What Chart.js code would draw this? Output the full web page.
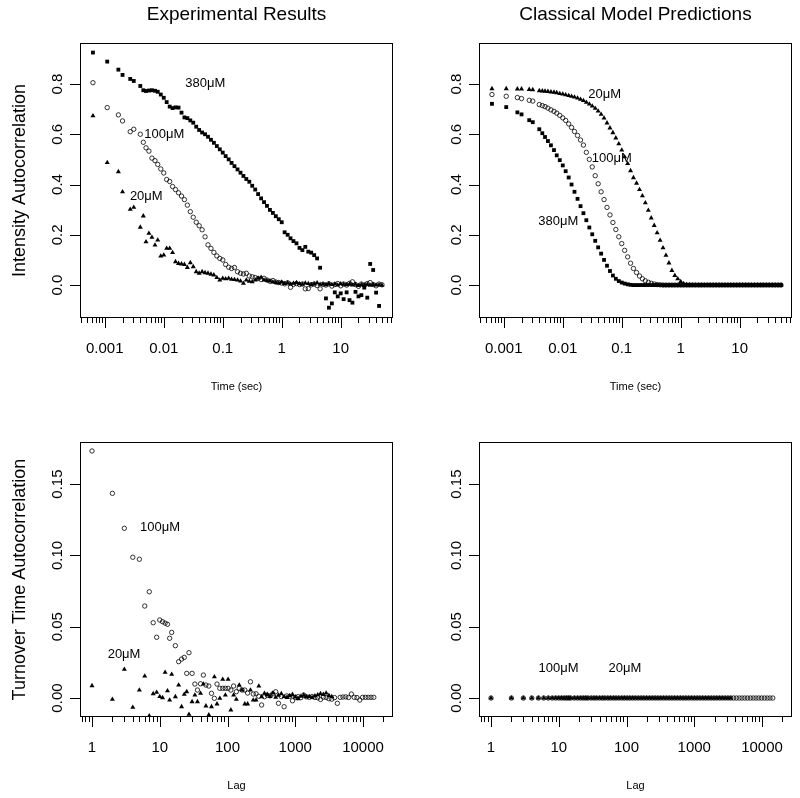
<!DOCTYPE html>
<html>
<head>
<meta charset="utf-8">
<script src="https://cdn.jsdelivr.net/npm/chart.js@4.4.1/dist/chart.umd.min.js"></script>
<style>
  html, body { margin: 0; padding: 0; background: #fff; }
  #wrap { position: relative; width: 800px; height: 798px; background: #fff; }
  canvas { position: absolute; }
</style>
</head>
<body>
<div id="wrap">
  <canvas id="c1" width="400" height="399" style="left:0;top:0"></canvas>
  <canvas id="c2" width="400" height="399" style="left:400px;top:0"></canvas>
  <canvas id="c3" width="400" height="399" style="left:0;top:399px"></canvas>
  <canvas id="c4" width="400" height="399" style="left:400px;top:399px"></canvas>
</div>
<script>
// ---------- DATA ----------
// lag times (seconds) for the intensity autocorrelation panels
const timeLags = [
  0.00063, 0.0011, 0.0017, 0.0020, 0.0027, 0.0031, 0.0040, 0.0045, 0.0050, 0.0056,
  0.0063, 0.0071, 0.0079, 0.0089, 0.0100, 0.0112, 0.0126, 0.0141, 0.0158, 0.0178,
  0.0200, 0.0224, 0.0251, 0.0282, 0.0316, 0.0355, 0.0398, 0.0447, 0.0501, 0.0562,
  0.0631, 0.0708, 0.0794, 0.0891, 0.100, 0.112, 0.126, 0.141, 0.158, 0.178,
  0.200, 0.224, 0.251, 0.282, 0.316, 0.355, 0.398, 0.447, 0.501, 0.562,
  0.631, 0.708, 0.794, 0.891, 1.00, 1.12, 1.26, 1.41, 1.58, 1.78,
  2.00, 2.24, 2.51, 2.82, 3.16, 3.55, 3.98, 4.47, 5.01, 5.62,
  6.31, 7.08, 7.94, 8.91, 10.0, 11.2, 12.6, 14.1, 15.8, 17.8,
  20.0, 22.4, 25.1, 28.2, 31.6, 35.5, 39.8, 44.7, 50.1
];
// experimental intensity autocorrelation
const exp380 = [
  0.925, 0.889, 0.857, 0.836, 0.820, 0.812, 0.792, 0.775, 0.772, 0.774,
  0.775, 0.773, 0.769, 0.758, 0.745, 0.728, 0.710, 0.704, 0.707, 0.706,
  0.686, 0.667, 0.664, 0.655, 0.646, 0.630, 0.617, 0.607, 0.600, 0.590,
  0.578, 0.566, 0.553, 0.540, 0.527, 0.513, 0.500, 0.486, 0.473, 0.460,
  0.447, 0.434, 0.422, 0.411, 0.395, 0.380, 0.362, 0.345, 0.330, 0.315,
  0.299, 0.287, 0.274, 0.262, 0.250, 0.210, 0.200, 0.186, 0.175, 0.166,
  0.148, 0.139, 0.152, 0.133, 0.129, 0.119, 0.106, 0.069, null, -0.053,
  -0.090, -0.073, -0.029, -0.045, -0.033, -0.056, -0.029, -0.060, -0.070, -0.027,
  -0.045, -0.040, -0.010, -0.050, 0.084, 0.060, -0.030, -0.083, null
];
const exp100 = [
  0.805, 0.706, 0.677, 0.653, 0.610, 0.620, 0.600, 0.568, 0.546, 0.533,
  0.505, 0.495, 0.480, 0.462, 0.446, 0.420, 0.412, 0.392, 0.380, 0.367,
  0.354, 0.340, 0.318, 0.292, 0.270, 0.250, 0.236, 0.220, 0.192, 0.160,
  0.146, 0.130, 0.116, 0.106, 0.100, 0.082, 0.071, 0.066, 0.070, 0.053,
  0.047, 0.044, 0.047, 0.036, 0.033, 0.030, 0.026, 0.022, 0.027, 0.020,
  0.015, 0.018, 0.012, 0.010, 0.008, 0.005, 0.009, -0.009, 0.003, 0.006,
  0.002, 0.004, -0.015, -0.014, 0.001, 0.004, -0.002, -0.015, 0.003, 0.000,
  0.005, -0.004, 0.002, 0.006, -0.003, 0.004, 0.000, 0.007, 0.013, 0.002,
  -0.005, 0.004, 0.000, 0.006, 0.010, 0.002, -0.003, 0.004, 0.001
];
const exp20 = [
  0.673, 0.487, 0.451, 0.371, 0.301, 0.309, 0.230, 0.275, 0.172, 0.206,
  0.190, 0.159, 0.179, 0.115, 0.119, 0.146, 0.146, 0.129, 0.093, 0.086,
  0.084, 0.082, 0.070, 0.089, 0.073, 0.053, 0.047, 0.053, 0.049, 0.047,
  0.043, 0.040, 0.030, 0.020, 0.027, 0.025, 0.027, 0.023, 0.022, 0.020,
  0.016, 0.007, 0.020, 0.015, 0.013, 0.020, 0.027, 0.031, 0.020, 0.018,
  0.016, 0.012, 0.010, 0.008, 0.012, 0.006, 0.009, 0.004, 0.007, 0.010,
  0.005, 0.003, 0.008, 0.006, 0.002, 0.005, 0.009, 0.003, 0.004, 0.001,
  0.006, 0.002, 0.004, 0.000, 0.005, 0.003, 0.001, 0.004, 0.000, 0.003,
  -0.002, 0.002, 0.000, 0.003, -0.001, 0.002, 0.000, 0.001, -0.001
];
// classical model intensity autocorrelation
const mod380 = [
  0.721, 0.708, 0.687, 0.679, 0.656, 0.648, 0.620, 0.604, 0.589, 0.573,
  0.556, 0.537, 0.516, 0.497, 0.476, 0.453, 0.428, 0.400, 0.371, 0.343,
  0.314, 0.286, 0.258, 0.229, 0.202, 0.176, 0.150, 0.125, 0.100, 0.077,
  0.056, 0.038, 0.025, 0.016, 0.010, 0.006, 0.003, 0.001, 0, 0,
  0, 0, 0, 0, 0, 0, 0, 0, 0, 0,
  0, 0, 0, 0, 0, 0, 0, 0, 0, 0,
  0, 0, 0, 0, 0, 0, 0, 0, 0, 0,
  0, 0, 0, 0, 0, 0, 0, 0, 0, 0,
  0, 0, 0, 0, 0, 0, 0, 0, 0
];
const mod100 = [
  0.758, 0.751, 0.746, 0.742, 0.735, 0.732, 0.718, 0.714, 0.710, 0.704,
  0.697, 0.691, 0.684, 0.675, 0.665, 0.655, 0.641, 0.627, 0.611, 0.595,
  0.577, 0.557, 0.528, 0.500, 0.470, 0.435, 0.403, 0.371, 0.340, 0.309,
  0.279, 0.249, 0.221, 0.192, 0.165, 0.138, 0.112, 0.087, 0.066, 0.050,
  0.036, 0.025, 0.017, 0.011, 0.007, 0.004, 0.002, 0.001, 0, 0,
  0, 0, 0, 0, 0, 0, 0, 0, 0, 0,
  0, 0, 0, 0, 0, 0, 0, 0, 0, 0,
  0, 0, 0, 0, 0, 0, 0, 0, 0, 0,
  0, 0, 0, 0, 0, 0, 0, 0, 0
];
const mod20 = [
  0.781, 0.781, 0.780, 0.780, 0.778, 0.777, 0.773, 0.772, 0.771, 0.770,
  0.768, 0.767, 0.765, 0.762, 0.760, 0.757, 0.754, 0.751, 0.748, 0.744,
  0.739, 0.734, 0.727, 0.720, 0.712, 0.703, 0.692, 0.679, 0.664, 0.645,
  0.625, 0.606, 0.585, 0.562, 0.537, 0.510, 0.483, 0.455, 0.427, 0.405,
  0.380, 0.355, 0.327, 0.297, 0.267, 0.237, 0.208, 0.178, 0.148, 0.118,
  0.088, 0.058, 0.038, 0.025, 0.014, 0.006, 0.002, 0.001, 0, 0,
  0, 0, 0, 0, 0, 0, 0, 0, 0, 0,
  0, 0, 0, 0, 0, 0, 0, 0, 0, 0,
  0, 0, 0, 0, 0, 0, 0, 0, 0
];
// lags for the turnover time autocorrelation panels
const turnLags = [
  1, 2, 3, 4, 5, 6, 7, 8, 9, 10,
  11, 12, 13, 14, 15, 17, 19, 21, 23, 25,
  27, 30, 33, 36, 40, 44, 48, 53, 58, 64,
  70, 77, 85, 93, 102, 112, 123, 135, 149, 164,
  180, 198, 218, 240, 264, 290, 319, 351, 386, 425,
  467, 514, 565, 622, 684, 752, 827, 910, 1001, 1101,
  1211, 1332, 1465, 1612, 1773, 1950, 2145, 2360, 2596, 2856,
  3141, 3455, 3800, 4180, 4598, 5058, 5564, 6120, 6732, 7405,
  8146, 8960, 9856, 10842, 11926, 13119, 14431
];
const expTurn100 = [
  0.1732, 0.1435, 0.1190, 0.0987, 0.0973, 0.0645, 0.0745, 0.0528, 0.0426, 0.0547,
  0.0535, 0.0525, 0.0517, 0.0419, 0.0460, 0.0367, 0.0255, 0.0273, 0.0285, 0.0173,
  0.0318, 0.0173, 0.0098, 0.0056, 0.0100, 0.0161, 0.0091, 0.0084, 0.0033, -0.0002,
  0.0098, 0.0068, 0.0068, 0.0068, 0.0068, 0.0056, 0.0084, 0.0044, 0.0068, 0.0056,
  0.0056, 0.0035, 0.0114, 0.0028, 0.0030, 0.0012, -0.0049, 0.0009, 0.0020, 0.0015,
  0.0030, 0.0044, -0.0037, 0.0010, -0.0061, 0.0015, 0.0012, -0.0019, 0.0005, 0.0010,
  0.0003, 0.0021, 0.0008, 0.0005, 0.0010, 0.0004, 0.0002, -0.0010, 0.0006, 0.0004,
  -0.0005, -0.0008, 0.0003, -0.0037, 0.0005, 0.0007, 0.0008, 0.0004, 0.0028, 0.0005,
  0.0003, -0.0014, 0.0005, 0.0005, 0.0005, 0.0005, 0.0005
];
const expTurn20 = [
  0.0086, -0.0009, 0.0201, -0.0065, 0.0056, 0.0154, -0.0126, 0.0030, 0.0040, 0.0010,
  0.0002, 0.0180, 0.0050, -0.0014, 0.0166, 0.0009, 0.0091, -0.0061, 0.0026, 0.0044,
  -0.0114, -0.0026, 0.0021, -0.0026, 0.0033, 0.0098, -0.0056, -0.0119, -0.0061, 0.0149,
  -0.0042, -0.0002, 0.0131, 0.0021, 0.0131, -0.0084, 0.0021, -0.0009, 0.0091, 0.0056,
  -0.0042, -0.0042, 0.0056, -0.0014, -0.0014, 0.0084, 0.0009, 0.0033, 0.0025, 0.0010,
  0.0035, 0.0005, 0.0020, 0.0030, 0.0010, 0.0004, 0.0015, 0.0025, 0.0006, -0.0005,
  0.0012, 0.0020, 0.0008, 0.0010, 0.0003, 0.0015, 0.0022, 0.0030, 0.0025, 0.0035,
  0.0018, 0.0010
];
const modTurn100 = [
  0, 0, 0, 0, 0, 0, 0, 0, 0, 0,
  0, 0, 0, 0, 0, 0, 0, 0, 0, 0,
  0, 0, 0, 0, 0, 0, 0, 0, 0, 0,
  0, 0, 0, 0, 0, 0, 0, 0, 0, 0,
  0, 0, 0, 0, 0, 0, 0, 0, 0, 0,
  0, 0, 0, 0, 0, 0, 0, 0, 0, 0,
  0, 0, 0, 0, 0, 0, 0, 0, 0, 0,
  0, 0, 0, 0, 0, 0, 0, 0, 0, 0,
  0, 0, 0, 0, 0, 0, 0
];
const modTurn20 = [
  0, 0, 0, 0, 0, 0, 0, 0, 0, 0,
  0, 0, 0, 0, 0, 0, 0, 0, 0, 0,
  0, 0, 0, 0, 0, 0, 0, 0, 0, 0,
  0, 0, 0, 0, 0, 0, 0, 0, 0, 0,
  0, 0, 0, 0, 0, 0, 0, 0, 0, 0,
  0, 0, 0, 0, 0, 0, 0, 0, 0, 0,
  0, 0, 0, 0, 0, 0, 0, 0, 0, 0,
  0, 0
];

// ---------- TEXT / TICKS ----------
const panelTitles = ['Experimental Results', 'Classical Model Predictions'];
const yTitles = ['Intensity Autocorrelation', 'Turnover Time Autocorrelation'];
const xTitles = ['Time (sec)', 'Lag'];
const timeTicks = [0.001, 0.01, 0.1, 1, 10];
const timeTickLabels = ['0.001', '0.01', '0.1', '1', '10'];
const lagTicks = [1, 10, 100, 1000, 10000];
const lagTickLabels = ['1', '10', '100', '1000', '10000'];
const corrTicks = [0, 0.2, 0.4, 0.6, 0.8];
const corrTickLabels = ['0.0', '0.2', '0.4', '0.6', '0.8'];
const turnTicks = [0, 0.05, 0.10, 0.15];
const turnTickLabels = ['0.00', '0.05', '0.10', '0.15'];
const seriesNames = ['380μM', '100μM', '20μM'];

// ---------- RENDERING ----------
const FONT = '"Liberation Sans", Arial, Helvetica, sans-serif';
const STYLE = {
  square:   { pointStyle: 'rect', pointRadius: 2.7, backgroundColor: '#000', borderColor: '#000', borderWidth: 0 },
  circle:   { pointStyle: 'circle', pointRadius: 2.2, backgroundColor: 'rgba(0,0,0,0)', borderColor: '#000', borderWidth: 0.8 },
  triangle: { pointStyle: 'triangle', pointRadius: 2.9, backgroundColor: '#000', borderColor: '#000', borderWidth: 0 }
};

function pts(xs, ys) {
  const out = [];
  for (let i = 0; i < ys.length; i++) {
    if (ys[i] !== null) out.push({ x: xs[i], y: ys[i] });
  }
  return out;
}

function rPlugin(cfg) {
  return {
    id: 'rAxes',
    afterDraw(chart) {
      const { ctx, chartArea: a } = chart;
      const xs = chart.scales.x, ys = chart.scales.y;
      ctx.save();
      ctx.strokeStyle = '#000';
      ctx.fillStyle = '#000';
      ctx.lineWidth = 1;
      const L = Math.round(a.left), R = Math.round(a.right), T = Math.round(a.top), B = Math.round(a.bottom);
      ctx.strokeRect(L + 0.5, T + 0.5, R - L - 1, B - T - 1);
      ctx.beginPath();
      const lo = Math.floor(Math.log10(xs.min)), hi = Math.ceil(Math.log10(xs.max));
      for (let d = lo; d <= hi; d++) {
        for (let m = 2; m <= 9; m++) {
          const v = m * Math.pow(10, d);
          if (v < xs.min || v > xs.max) continue;
          const px = Math.round(xs.getPixelForValue(v)) + 0.5;
          ctx.moveTo(px, B); ctx.lineTo(px, B + 5);
        }
      }
      cfg.xTicks.forEach(v => {
        const px = Math.round(xs.getPixelForValue(v)) + 0.5;
        ctx.moveTo(px, B); ctx.lineTo(px, B + 10);
      });
      cfg.yTicks.forEach(v => {
        const py = Math.round(ys.getPixelForValue(v)) + 0.5;
        ctx.moveTo(L - 10, py); ctx.lineTo(L, py);
      });
      ctx.stroke();
      ctx.font = '15px ' + FONT;
      ctx.textAlign = 'center';
      ctx.textBaseline = 'alphabetic';
      cfg.xTicks.forEach((v, i) => {
        ctx.fillText(cfg.xLabels[i], xs.getPixelForValue(v), B + 35);
      });
      cfg.yTicks.forEach((v, i) => {
        ctx.save();
        ctx.translate(L - 18, ys.getPixelForValue(v));
        ctx.rotate(-Math.PI / 2);
        ctx.fillText(cfg.yLabels[i], 0, 0);
        ctx.restore();
      });
      const cx = (a.left + a.right) / 2;
      if (cfg.title) {
        ctx.font = '19px ' + FONT;
        ctx.fillText(cfg.title, cx, 19.5);
      }
      ctx.font = '11px ' + FONT;
      ctx.fillText(cfg.xTitle, cx, B + 72);
      if (cfg.yTitle) {
        ctx.save();
        ctx.font = '18px ' + FONT;
        ctx.translate(25, (a.top + a.bottom) / 2);
        ctx.rotate(-Math.PI / 2);
        ctx.fillText(cfg.yTitle, 0, 0);
        ctx.restore();
      }
      ctx.font = '13px ' + FONT;
      ctx.textBaseline = 'middle';
      cfg.notes.forEach(n => {
        ctx.fillText(n.text, xs.getPixelForValue(n.x), ys.getPixelForValue(n.y));
      });
      ctx.restore();
    }
  };
}

function makeChart(id, datasets, xr, yr, pad, cfg) {
  return new Chart(document.getElementById(id), {
    type: 'scatter',
    data: { datasets },
    options: {
      responsive: false,
      animation: false,
      devicePixelRatio: 1,
      events: [],
      layout: { padding: pad },
      plugins: { legend: { display: false }, tooltip: { enabled: false }, title: { display: false } },
      scales: {
        x: { type: 'logarithmic', min: xr[0], max: xr[1], display: false },
        y: { type: 'linear', min: yr[0], max: yr[1], display: false }
      }
    },
    plugins: [rPlugin(cfg)]
  });
}

const timeRange = [0.00038, 77];
const corrRange = [-0.131, 0.963];
const lagRange = [0.665, 27700];
const turnRange = [-0.0133, 0.1795];
const padLeft = { left: 80, right: 7, top: 43, bottom: 81 };
const padRight = { left: 79, right: 8, top: 43, bottom: 81 };

function ds(xs, ys, style) {
  return Object.assign({ data: pts(xs, ys), showLine: false }, STYLE[style]);
}

makeChart('c1', [
  ds(timeLags, exp20, 'triangle'),
  ds(timeLags, exp100, 'circle'),
  ds(timeLags, exp380, 'square')
], timeRange, corrRange, padLeft, {
  title: panelTitles[0], xTitle: xTitles[0], yTitle: yTitles[0],
  xTicks: timeTicks, xLabels: timeTickLabels, yTicks: corrTicks, yLabels: corrTickLabels,
  notes: [
    { text: seriesNames[0], x: 0.0505, y: 0.804 },
    { text: seriesNames[1], x: 0.0102, y: 0.601 },
    { text: seriesNames[2], x: 0.00505, y: 0.354 }
  ]
});

makeChart('c2', [
  ds(timeLags, mod20, 'triangle'),
  ds(timeLags, mod100, 'circle'),
  ds(timeLags, mod380, 'square')
], timeRange, corrRange, padRight, {
  title: panelTitles[1], xTitle: xTitles[0], yTitle: null,
  xTicks: timeTicks, xLabels: timeTickLabels, yTicks: corrTicks, yLabels: corrTickLabels,
  notes: [
    { text: seriesNames[2], x: 0.0515, y: 0.758 },
    { text: seriesNames[1], x: 0.0678, y: 0.503 },
    { text: seriesNames[0], x: 0.0084, y: 0.253 }
  ]
});

makeChart('c3', [
  ds(turnLags, expTurn20, 'triangle'),
  ds(turnLags, expTurn100, 'circle')
], lagRange, turnRange, padLeft, {
  title: null, xTitle: xTitles[1], yTitle: yTitles[1],
  xTicks: lagTicks, xLabels: lagTickLabels, yTicks: turnTicks, yLabels: turnTickLabels,
  notes: [
    { text: seriesNames[1], x: 10.07, y: 0.1199 },
    { text: seriesNames[2], x: 2.97, y: 0.0309 }
  ]
});

makeChart('c4', [
  ds(turnLags, modTurn20, 'triangle'),
  ds(turnLags, modTurn100, 'circle')
], lagRange, turnRange, padRight, {
  title: null, xTitle: xTitles[1], yTitle: null,
  xTicks: lagTicks, xLabels: lagTickLabels, yTicks: turnTicks, yLabels: turnTickLabels,
  notes: [
    { text: seriesNames[1], x: 9.9, y: 0.021 },
    { text: seriesNames[2], x: 95, y: 0.021 }
  ]
});
</script>
</body>
</html>
